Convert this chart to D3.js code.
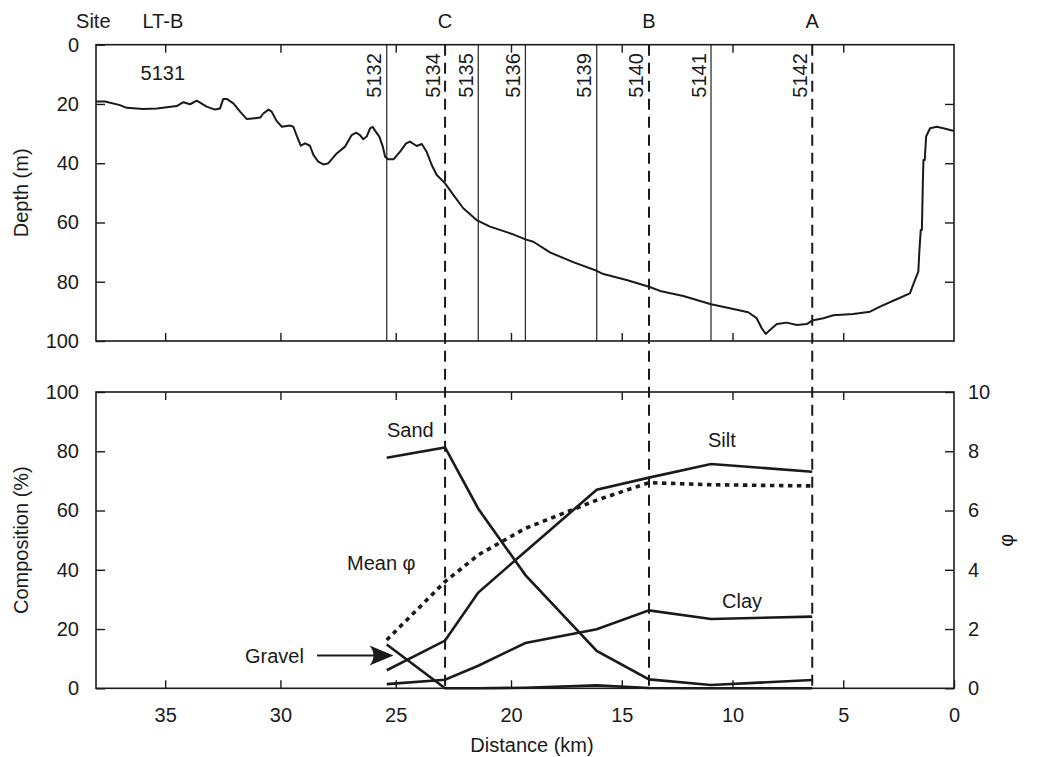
<!DOCTYPE html>
<html>
<head>
<meta charset="utf-8">
<script src="https://cdn.jsdelivr.net/npm/d3@7"></script>
<style>
  body { margin: 0; background: #fff; }
  svg text { font-family: "Liberation Sans", Arial, Helvetica, sans-serif; font-size: 20px; fill: #1a1a1a; }
</style>
</head>
<body>
<svg id="chart" width="1046" height="757"></svg>
<script>
// ---- Sampling sites along the transect (distance from shore, km) ----
const siteIds    = ["5132", "5134", "5135", "5136", "5139", "5140", "5141", "5142"];
const siteKm     = [25.39, 22.86, 21.42, 19.35, 16.13, 13.77, 10.97, 6.40];
const siteDashed = [false, true, false, false, false, true, false, true];

// Station letters shown above the profile
const stationNames = ["LT-B", "C", "B", "A"];
const stationKm    = [35.1, 22.86, 13.77, 6.40];
// Site number without a vertical marker
const extraSiteId = "5131";
const extraSiteKm = 35.1;

// ---- Bathymetric profile (km, depth in m) ----
const profileKm = [38.00, 37.61, 36.96, 36.67, 35.95, 35.36, 34.50, 34.21, 33.92, 33.63,
  33.20, 32.84, 32.62, 32.48, 32.33, 32.04, 31.75, 31.46, 31.10, 30.88,
  30.74, 30.52, 30.38, 30.16, 29.94, 29.58, 29.44, 29.32, 29.12, 28.93,
  28.72, 28.57, 28.36, 28.14, 27.92, 27.56, 27.20, 26.91, 26.72, 26.55,
  26.41, 26.26, 26.11, 26.00, 25.90, 25.71, 25.56, 25.46, 25.32, 25.10,
  24.81, 24.55, 24.38, 24.09, 23.87, 23.66, 23.44, 23.22, 22.86, 22.50,
  22.07, 21.49, 20.91, 20.48, 19.90, 19.35, 18.99, 18.24, 17.19, 16.13,
  15.83, 14.78, 13.77, 13.27, 12.22, 10.97, 9.96, 9.29, 8.91, 8.68,
  8.50, 8.31, 8.00, 7.55, 7.10, 6.65, 6.40, 5.90, 5.45, 4.55,
  3.79, 3.34, 2.59, 1.99, 1.76, 1.61, 1.57, 1.50, 1.45, 1.41,
  1.38, 1.32, 1.26, 1.08, 0.78, 0.48, 0.00];
const profileDepth = [19.2, 19.2, 20.4, 21.3, 21.7, 21.5, 20.7, 19.4, 20.1, 18.9,
  20.9, 21.9, 21.5, 18.3, 18.3, 19.8, 22.6, 25.1, 24.8, 24.6,
  23.2, 21.9, 22.6, 25.8, 27.7, 27.3, 27.7, 30.2, 34.1, 33.3,
  34.1, 37.2, 39.5, 40.4, 40.0, 36.7, 34.4, 30.5, 29.7, 30.5,
  31.9, 31.0, 28.2, 27.7, 29.0, 31.0, 34.4, 37.8, 38.7, 38.7,
  36.1, 33.3, 32.7, 34.2, 33.5, 36.1, 40.6, 44.0, 46.8, 50.7,
  55.2, 59.2, 61.4, 62.5, 64.0, 65.7, 66.5, 70.1, 73.4, 76.3,
  77.4, 79.4, 81.7, 83.1, 84.8, 87.6, 89.2, 90.3, 92.3, 95.7,
  97.6, 96.3, 94.3, 93.8, 94.6, 94.3, 93.1, 92.3, 91.3, 90.9,
  90.1, 88.4, 85.9, 83.9, 79.4, 76.6, 70.4, 62.5, 62.5, 47.9,
  38.9, 38.9, 31.0, 28.2, 27.7, 28.2, 29.1];

// ---- Grain-size composition at each site (%), mean grain size (phi) ----
const sand    = [77.8, 81.3, 60.6, 38.2, 12.6, 3.0, 1.1, 2.8];
const silt    = [6.1, 16.1, 32.3, 46.2, 67.0, 71.1, 75.7, 73.1];
const clay    = [1.4, 2.9, 7.6, 15.3, 19.9, 26.3, 23.4, 24.2];
const gravel  = [14.8, 0, 0, 0.2, 1.0, 0.1, 0, 0];
const meanPhi = [1.63, 3.6, 4.5, 5.4, 6.35, 6.94, 6.87, 6.83];

// ---- Tick values ----
const distanceTicks = [35, 30, 25, 20, 15, 10, 5, 0];
const depthTicks    = [0, 20, 40, 60, 80, 100];
const compTicks     = [0, 20, 40, 60, 80, 100];
const phiTicks      = [0, 2, 4, 6, 8, 10];

// ---- Layout ----
const left = 96, right = 954;
const top1 = 44.7, bottom1 = 341;
const top2 = 392, bottom2 = 688.3;
const ink = "#1a1a1a";

const svg = d3.select("#chart");

const x = d3.scaleLinear().domain([38, 20, 0]).range([left, 511, right]);
const yDepth = d3.scaleLinear().domain([0, 100]).range([top1, bottom1]);
const yComp = d3.scaleLinear().domain([0, 100]).range([bottom2, top2]);
const yPhi = d3.scaleLinear().domain([0, 10]).range([bottom2, top2]);

function styleAxis(g) {
  g.select(".domain").remove();
  g.attr("color", ink);
  g.selectAll(".tick line").attr("stroke-width", 1.4);
}

const innerX = distanceTicks.filter(d => d > 0);

// ===== Upper panel: depth profile =====
svg.append("g").attr("transform", `translate(${left},0)`)
  .call(d3.axisLeft(yDepth).tickValues(depthTicks).tickSize(-9).tickPadding(17))
  .call(styleAxis);
svg.append("g").attr("transform", `translate(${right},0)`)
  .call(d3.axisRight(yDepth).tickValues([20, 40, 60, 80]).tickSize(-9).tickFormat(""))
  .call(styleAxis);
svg.append("g").attr("transform", `translate(0,${top1})`)
  .call(d3.axisTop(x).tickValues(innerX).tickSize(-8).tickFormat(""))
  .call(styleAxis);
svg.append("g").attr("transform", `translate(0,${bottom1})`)
  .call(d3.axisBottom(x).tickValues(innerX).tickSize(-8).tickFormat(""))
  .call(styleAxis);

// Site markers: solid lines stay in the upper panel, dashed ones run through both
const sites = siteIds.map((id, i) => ({ id, km: siteKm[i], dashed: siteDashed[i] }));
svg.append("g").selectAll("line").data(sites).join("line")
  .attr("x1", d => x(d.km)).attr("x2", d => x(d.km))
  .attr("y1", top1)
  .attr("y2", d => d.dashed ? bottom2 : bottom1)
  .attr("stroke", d => d.dashed ? ink : "#333")
  .attr("stroke-width", d => d.dashed ? 2 : 1.3)
  .attr("stroke-dasharray", d => d.dashed ? "11,7" : null);

svg.append("g").selectAll("text").data(sites).join("text")
  .attr("transform", d => `translate(${x(d.km) - 5.5},${top1 + 8.5}) rotate(-90)`)
  .attr("text-anchor", "end")
  .text(d => d.id);

svg.append("text").attr("x", x(extraSiteKm)).attr("y", 79.5)
  .attr("text-anchor", "middle").text(extraSiteId);

// Station letters
svg.append("text").attr("x", 93.3).attr("y", 28).attr("text-anchor", "middle").text("Site");
svg.append("g").selectAll("text").data(stationNames).join("text")
  .attr("x", (d, i) => x(stationKm[i])).attr("y", 28)
  .attr("text-anchor", "middle").text(d => d);

// Profile
const profile = d3.zip(profileKm, profileDepth);
svg.append("path").datum(profile)
  .attr("fill", "none").attr("stroke", ink).attr("stroke-width", 2)
  .attr("stroke-linejoin", "round")
  .attr("d", d3.line().x(d => x(d[0])).y(d => yDepth(d[1])));

svg.append("rect").attr("x", left).attr("y", top1)
  .attr("width", right - left).attr("height", bottom1 - top1)
  .attr("fill", "none").attr("stroke", ink).attr("stroke-width", 1.6);

svg.append("text")
  .attr("transform", `translate(27.5,${(top1 + bottom1) / 2}) rotate(-90)`)
  .attr("text-anchor", "middle").text("Depth (m)");

// ===== Lower panel: sediment composition =====
svg.append("g").attr("transform", `translate(${left},0)`)
  .call(d3.axisLeft(yComp).tickValues(compTicks).tickSize(-9).tickPadding(17))
  .call(styleAxis);
svg.append("g").attr("transform", `translate(${right},0)`)
  .call(d3.axisRight(yPhi).tickValues(phiTicks).tickSize(-9).tickPadding(14))
  .call(styleAxis);
svg.append("g").attr("transform", `translate(0,${top2})`)
  .call(d3.axisTop(x).tickValues(innerX).tickSize(-8).tickFormat(""))
  .call(styleAxis);
svg.append("g").attr("transform", `translate(0,${bottom2})`)
  .call(d3.axisBottom(x).tickValues(distanceTicks).tickSize(-8).tickPadding(20))
  .call(styleAxis);

const compLine = d3.line().x((d, i) => x(siteKm[i])).y(d => yComp(d));
[sand, silt, clay, gravel].forEach(series => {
  svg.append("path").datum(series)
    .attr("fill", "none").attr("stroke", ink).attr("stroke-width", 2.6)
    .attr("d", compLine);
});

svg.append("path").datum(meanPhi)
  .attr("fill", "none").attr("stroke", ink).attr("stroke-width", 3.6)
  .attr("stroke-dasharray", "4.5,4.5")
  .attr("d", d3.line().x((d, i) => x(siteKm[i])).y(d => yPhi(d)));

svg.append("rect").attr("x", left).attr("y", top2)
  .attr("width", right - left).attr("height", bottom2 - top2)
  .attr("fill", "none").attr("stroke", ink).attr("stroke-width", 1.6);

// Series labels
svg.append("text").attr("x", 387).attr("y", 437).text("Sand");
svg.append("text").attr("x", 708).attr("y", 447).text("Silt");
svg.append("text").attr("x", 722).attr("y", 608).text("Clay");
svg.append("text").attr("x", 347).attr("y", 569.5).text("Mean \u03c6");
svg.append("text").attr("x", 245).attr("y", 663).text("Gravel");

// Arrow pointing to the gravel curve
const arrowY = 655.5, arrowTip = 393.5;
svg.append("line").attr("x1", 317).attr("x2", arrowTip - 12)
  .attr("y1", arrowY).attr("y2", arrowY)
  .attr("stroke", ink).attr("stroke-width", 2.2);
svg.append("path")
  .attr("d", `M${arrowTip},${arrowY} L${arrowTip - 24},${arrowY - 10} Q${arrowTip - 16},${arrowY} ${arrowTip - 24},${arrowY + 10} Z`)
  .attr("fill", ink);

// Axis titles
svg.append("text")
  .attr("transform", `translate(27.5,${(top2 + bottom2) / 2}) rotate(-90)`)
  .attr("text-anchor", "middle").text("Composition (%)");
svg.append("text").attr("x", (left + right) / 2 + 7).attr("y", 752)
  .attr("text-anchor", "middle").text("Distance (km)");
svg.append("text")
  .attr("transform", `translate(1013,${(top2 + bottom2) / 2}) rotate(-90)`)
  .attr("text-anchor", "middle").text("\u03c6");
</script>
</body>
</html>
